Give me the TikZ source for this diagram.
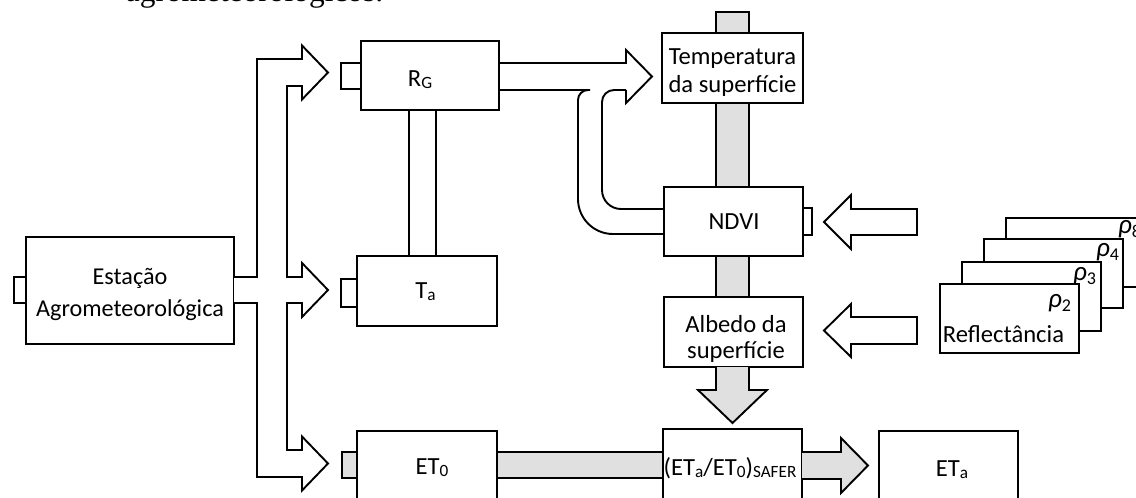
\documentclass[tikz,border=0pt]{standalone}
\usepackage{fontspec}
\setmainfont{Carlito}
\newfontfamily\bodyserif{Liberation Serif}
\definecolor{pipegray}{RGB}{224,224,224}
\newcommand{\sbs}[1]{\raisebox{-1pt}{\fontsize{8.6}{9}\selectfont #1}}
\newcommand{\rhosub}[1]{{\itshape ρ}\raisebox{-2pt}{\fontsize{9}{9}\selectfont #1}}
\begin{document}
\begin{tikzpicture}[x=0.5pt,y=-0.5pt,line width=0.95pt,line join=miter,
  box/.style={draw,fill=white,inner sep=0pt,outer sep=0pt},
  graybox/.style={draw,fill=pipegray,inner sep=0pt,outer sep=0pt},
  txt/.style={inner sep=0pt,anchor=base,font=\fontsize{12.3}{15}\selectfont},
  rho/.style={inner sep=0pt,anchor=base east,font=\fontsize{13.5}{16}\selectfont},
  blockw/.style={draw,fill=white},
  blockg/.style={draw,fill=pipegray}]
\useasboundingbox (0,0) rectangle (1136,498);
\clip (0,0) rectangle (1136,498);

% cut-off caption line at the top
\node[inner sep=0pt,anchor=base west,font=\bodyserif\fontsize{15.7}{18}\selectfont] (cap) at (125,2) {agrometeorológicos.};

% gray vertical column
\draw[fill=pipegray] (716,367) -- (716,12) -- (749,12) -- (749,367);
% gray bar ET0 -> SAFER
\draw[fill=pipegray] (497,452) rectangle (663,478);

% boxes
\node[box,minimum width=104pt,minimum height=53.5pt] (est) at (130,290.5) {};
\node[box,minimum width=69pt,minimum height=34.5pt] (rg) at (430,75.5) {};
\node[box,minimum width=70pt,minimum height=35pt] (ta) at (427,291) {};
\node[box,minimum width=70pt,minimum height=54.5pt] (et0) at (427,485.5) {};
\node[box,minimum width=70.5pt,minimum height=35pt] (temp) at (732.5,68) {};
\node[box,minimum width=69.5pt,minimum height=34.5pt] (ndvi) at (733.5,221.5) {};
\node[box,minimum width=69.5pt,minimum height=35pt] (alb) at (733.5,332) {};
\node[box,minimum width=69.5pt,minimum height=55.5pt] (safer) at (732.5,484.5) {};
\node[box,minimum width=69.5pt,minimum height=54.5pt] (eta) at (948.5,485.5) {};

% tabs
\node[box,minimum width=6pt,minimum height=13pt] (esttab) at (20,290) {};
\node[box,minimum width=10pt,minimum height=13pt] (rgtab) at (351,76) {};
\node[box,minimum width=8pt,minimum height=14pt] (tatab) at (349,293) {};
\node[graybox,minimum width=7.5pt,minimum height=13pt] (et0tab) at (349.5,465) {};
\node[box,minimum width=4.5pt,minimum height=13.5pt] (ndvitab) at (807.5,221.5) {};

% reflectance stack
\node[box,minimum width=69.5pt,minimum height=34.5pt] (r4) at (1075.5,252.5) {};
\node[box,minimum width=69.5pt,minimum height=34.5pt] (r3) at (1053.5,273.5) {};
\node[box,minimum width=69.5pt,minimum height=34.5pt] (r2) at (1031.5,296.5) {};
\node[box,minimum width=69.5pt,minimum height=34.5pt] (r1) at (1009.5,318.5) {};

% branching pipe from the station
\draw[blockw] (234,277) -- (257,277) -- (257,59) -- (302,59) -- (302,45.5) -- (328,72.5) -- (302,99.5) -- (302,86)
  -- (287,86) -- (287,277) -- (302,277) -- (302,263) -- (328,290) -- (302,317) -- (302,303)
  -- (287,303) -- (287,450) -- (302,450) -- (302,436.5) -- (328,463.5) -- (302,490.5) -- (302,477)
  -- (257,477) -- (257,303) -- (234,303);

% pipe between RG and Ta
\draw (409,110) -- (409,256);
\draw (436,110) -- (436,256);

% arrow RG -> Temperatura with merging pipe from NDVI
\draw (499,63) -- (626,63) -- (626,50) -- (652,76.5) -- (626,103) -- (626,90);
\draw (499,90) -- (590,90);
\draw[rounded corners=17.5pt] (664,234) -- (578,234) [rounded corners=5pt] -- (578,90) -- (590,90);
\draw[rounded corners=9.5pt] (664,209) -- (602,209) [rounded corners=6pt] -- (602,90) -- (626,90);

% arrows from reflectance
\draw[blockw] (917,209) -- (851,209) -- (851,195) -- (824,222) -- (851,249) -- (851,235) -- (917,235) -- cycle;
\draw[blockw] (917,317) -- (851,317) -- (851,304) -- (824,330.5) -- (851,357) -- (851,344) -- (917,344) -- cycle;

% gray arrow albedo -> SAFER
\draw[blockg] (716,367) -- (716,390) -- (698,390) -- (732.5,423) -- (767,390) -- (749,390) -- (749,367);
% gray arrow SAFER -> ETa
\draw[blockg] (802,452) -- (841,452) -- (841,438) -- (868,465.5) -- (841,493) -- (841,479) -- (802,479);

% texts
\node[txt,font=\fontsize{12.1}{15}\selectfont] (estl1) at (130,284) {Estação};
\node[txt,font=\fontsize{12.1}{15}\selectfont] (estl2) at (130,316) {Agrometeorológica};
\node[txt] (rgl) at (420,86) {R\sbs{G}};
\node[txt] (tal) at (425.5,298) {T\sbs{a}};
\node[txt] (et0l) at (432,474.5) {ET\sbs{0}};
\node[txt] (templ1) at (732.5,64) {Temperatura};
\node[txt] (templ2) at (732.5,92) {da superfície};
\node[txt] (ndvil) at (734,229) {NDVI};
\node[txt] (albl1) at (736,332) {Albedo da};
\node[txt] (albl2) at (736,358) {superfície};
\node[txt] (saferl) at (730,475) {(ET\sbs{a}/ET\sbs{0})\sbs{SAFER}};
\node[txt] (etal) at (952,476) {ET\sbs{a}};
\node[txt,anchor=base west] (refl) at (942,342) {Reflectância};
\node[rho] (rho2) at (1072,307) {\rhosub{2}};
\node[rho] (rho3) at (1097,280) {\rhosub{3}};
\node[rho] (rho4) at (1120,256) {\rhosub{4}};
\node[rho] (rho8) at (1142,233) {\rhosub{8}};
\end{tikzpicture}
\end{document}
